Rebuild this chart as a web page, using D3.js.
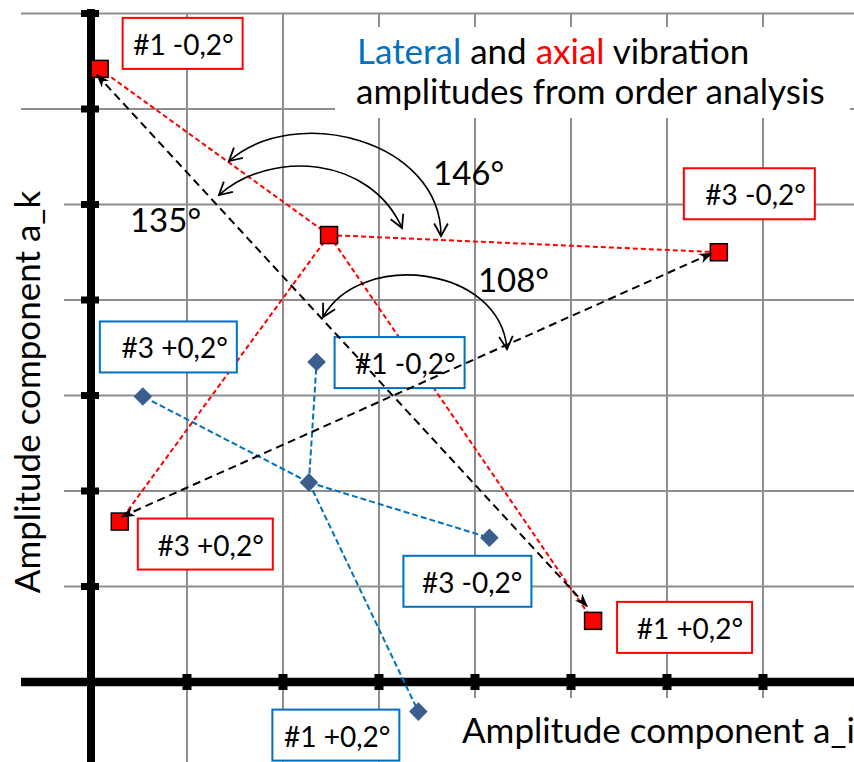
<!DOCTYPE html>
<html>
<head>
<meta charset="utf-8">
<script src="https://cdn.jsdelivr.net/npm/d3@7/dist/d3.min.js"></script>
<style>
  body { margin: 0; background: #fff; }
  svg { display: block; font-family: Lato, "Open Sans", sans-serif; }
</style>
</head>
<body>
<div id="chart"></div>
<script>
// Order analysis: axial (red) and lateral (blue) amplitude vectors, in grid units
const axialNames = ["ref", "#1 -0,2°", "#3 -0,2°", "#3 +0,2°", "#1 +0,2°"];
const axialX = [2.48, 0.09, 6.54, 0.30, 5.23];
const axialY = [4.68, 6.42, 4.50, 1.68, 0.64];

const lateralNames = ["ref", "#1 -0,2°", "#3 -0,2°", "#3 +0,2°", "#1 +0,2°"];
const lateralX = [2.27, 2.35, 4.15, 0.54, 3.41];
const lateralY = [2.09, 3.35, 1.51, 2.99, -0.31];

// black double arrows between the +/- 0,2° runs
const arrowStart = [[0.06, 6.36], [0.32, 1.73]];
const arrowEnd = [[5.17, 0.79], [6.47, 4.49]];

// angle annotations: curve from/through/through/to, plus label anchor
const angleLabels = ["146°", "135°", "108°"];
const angleCurves = [
    [[3.646, 4.67], [3.646, 5.675], [2.125, 6.063], [1.4375, 5.455]],
    [[3.24, 4.754], [2.906, 5.508], [1.875, 5.581], [1.333, 5.099]],
    [[4.333, 3.487], [4.26, 4.366], [2.802, 4.524], [2.417, 3.822]]
];
const angleTextPos = [[3.5625, 5.204], [0.406, 4.712], [4.03, 4.084]];

const xTicks = [1, 2, 3, 4, 5, 6, 7, 8];
const yTicks = [1, 2, 3, 4, 5, 6, 7];

// label box placement relative to its point (px)
const axialLabelLayout = {
    "#1 -0,2°": { dx: 23, dy: -51, w: 120 },
    "#3 -0,2°": { dx: -35, dy: -84, w: 131 },
    "#3 +0,2°": { dx: 18, dy: -3, w: 135 },
    "#1 +0,2°": { dx: 24, dy: -19, w: 135 }
};
const lateralLabelLayout = {
    "#1 -0,2°": { dx: 18, dy: -25, w: 130 },
    "#3 -0,2°": { dx: -86, dy: 18, w: 128 },
    "#3 +0,2°": { dx: -43, dy: -75, w: 137 },
    "#1 +0,2°": { dx: -146, dy: -2, w: 127 }
};

const width = 854;
const height = 762;
const red = "#ff0000";
const blue = "#0070c0";
const gridColor = "#8e8e8e";

const svg = d3.select("#chart")
    .append("svg")
    .attr("width", width)
    .attr("height", height);

const x = d3.scaleLinear().domain([0, 8]).range([91, 859]);
const y = d3.scaleLinear().domain([0, 7]).range([682, 13.5]);

// markers
const defs = svg.append("defs");
defs.append("marker")
    .attr("id", "stealth")
    .attr("viewBox", "0 0 14 10")
    .attr("refX", 13).attr("refY", 5)
    .attr("markerWidth", 14).attr("markerHeight", 10)
    .attr("markerUnits", "userSpaceOnUse")
    .attr("orient", "auto-start-reverse")
    .append("path")
    .attr("d", "M0,0 L14,5 L0,10 L4,5 Z")
    .attr("fill", "#000");
defs.append("marker")
    .attr("id", "openV")
    .attr("viewBox", "-1 -1 14 14")
    .attr("refX", 11).attr("refY", 6)
    .attr("markerWidth", 16).attr("markerHeight", 16)
    .attr("markerUnits", "userSpaceOnUse")
    .attr("orient", "auto-start-reverse")
    .append("path")
    .attr("d", "M0,0 L11,6 L0,12")
    .attr("fill", "none")
    .attr("stroke", "#000")
    .attr("stroke-width", 1.6);

// Grid
const grid = svg.append("g").attr("stroke", gridColor).attr("stroke-width", 2);
grid.selectAll(".vgrid")
    .data(xTicks)
    .join("line")
    .attr("x1", d => x(d)).attr("x2", d => x(d))
    .attr("y1", y(7)).attr("y2", height);
grid.selectAll(".hgrid")
    .data(yTicks)
    .join("line")
    .attr("x1", 21).attr("x2", width)
    .attr("y1", d => y(d)).attr("y2", d => y(d));

// white areas behind the titles (they hide the grid)
svg.append("rect").attr("x", 0).attr("y", 150).attr("width", 64).attr("height", 490).attr("fill", "#fff");
svg.append("rect").attr("x", 455).attr("y", 698).attr("width", 400).attr("height", 64).attr("fill", "#fff");
svg.append("rect").attr("x", 335).attr("y", 27).attr("width", 515).attr("height", 91).attr("fill", "#fff");

// Axes: heavy black lines with square ticks
svg.append("line")
    .attr("x1", 21).attr("x2", width)
    .attr("y1", y(0)).attr("y2", y(0))
    .attr("stroke", "#000").attr("stroke-width", 8.5);
svg.append("line")
    .attr("x1", x(0)).attr("x2", x(0))
    .attr("y1", 9).attr("y2", height)
    .attr("stroke", "#000").attr("stroke-width", 8);
svg.append("g")
    .selectAll("rect")
    .data(xTicks)
    .join("rect")
    .attr("x", d => x(d) - 4.5).attr("y", y(0) - 8)
    .attr("width", 9).attr("height", 16)
    .attr("fill", "#000");
svg.append("g")
    .selectAll("rect")
    .data(yTicks)
    .join("rect")
    .attr("x", x(0) - 10).attr("y", d => y(d) - 3.5)
    .attr("width", 18).attr("height", 7)
    .attr("fill", "#000");

// Axis titles
svg.append("text")
    .attr("x", 462)
    .attr("y", 743)
    .attr("font-size", 35)
    .attr("fill", "#000")
    .text("Amplitude component a_i");
svg.append("text")
    .attr("transform", "rotate(-90)")
    .attr("x", -392)
    .attr("y", 40)
    .attr("text-anchor", "middle")
    .attr("font-size", 35)
    .attr("fill", "#000")
    .text("Amplitude component a_k");

// Chart title
const title = svg.append("text")
    .attr("font-size", 35)
    .attr("fill", "#000");
title.append("tspan").attr("x", 357).attr("y", 64).attr("fill", blue).text("Lateral");
title.append("tspan").text(" and ");
title.append("tspan").attr("fill", red).text("axial");
title.append("tspan").text(" vibration");
title.append("tspan").attr("x", 356).attr("y", 104).text("amplitudes from order analysis");

// Series: spokes from the reference point to each run
function drawSeries(names, xs, ys, color, dash) {
    const pts = names.map((n, i) => ({ name: n, x: xs[i], y: ys[i] }));
    const ref = pts[0];
    svg.append("g")
        .selectAll("line")
        .data(pts.slice(1))
        .join("line")
        .attr("x1", x(ref.x)).attr("y1", y(ref.y))
        .attr("x2", d => x(d.x)).attr("y2", d => y(d.y))
        .attr("stroke", color)
        .attr("stroke-width", 2)
        .attr("stroke-dasharray", dash);
    return pts;
}

const axialPts = drawSeries(axialNames, axialX, axialY, red, "5,3");
const lateralPts = drawSeries(lateralNames, lateralX, lateralY, blue, "6,3");

svg.append("g")
    .selectAll("path")
    .data(lateralPts)
    .join("path")
    .attr("d", d3.symbol(d3.symbolDiamond2, 220))
    .attr("transform", d => `translate(${x(d.x)},${y(d.y)})`)
    .attr("fill", "#3a5f8f");

svg.append("g")
    .selectAll("rect")
    .data(axialPts)
    .join("rect")
    .attr("x", d => x(d.x) - 8.5).attr("y", d => y(d.y) - 8.5)
    .attr("width", 17).attr("height", 17)
    .attr("fill", red)
    .attr("stroke", "#000")
    .attr("stroke-width", 1.5);

// Data label boxes
function drawLabels(pts, layout, color) {
    const g = svg.append("g")
        .selectAll("g")
        .data(pts.filter(d => layout[d.name]))
        .join("g")
        .attr("transform", d => `translate(${x(d.x) + layout[d.name].dx},${y(d.y) + layout[d.name].dy})`);
    g.append("rect")
        .attr("width", d => layout[d.name].w)
        .attr("height", 51)
        .attr("fill", "#fff")
        .attr("stroke", color)
        .attr("stroke-width", 2);
    g.append("text")
        .attr("x", d => layout[d.name].w - 9)
        .attr("y", 37)
        .attr("text-anchor", "end")
        .attr("font-size", 28)
        .attr("fill", "#000")
        .text(d => d.name);
}
drawLabels(axialPts, axialLabelLayout, red);
drawLabels(lateralPts, lateralLabelLayout, blue);

// Double arrows (black dashed)
svg.append("g")
    .selectAll("line")
    .data(arrowStart)
    .join("line")
    .attr("x1", d => x(d[0])).attr("y1", d => y(d[1]))
    .attr("x2", (d, i) => x(arrowEnd[i][0])).attr("y2", (d, i) => y(arrowEnd[i][1]))
    .attr("stroke", "#000")
    .attr("stroke-width", 2)
    .attr("stroke-dasharray", "8,5")
    .attr("marker-start", "url(#stealth)")
    .attr("marker-end", "url(#stealth)");

// Angle arcs
svg.append("g")
    .selectAll("path")
    .data(angleCurves)
    .join("path")
    .attr("d", c => {
        const p = d3.path();
        p.moveTo(x(c[0][0]), y(c[0][1]));
        p.bezierCurveTo(x(c[1][0]), y(c[1][1]), x(c[2][0]), y(c[2][1]), x(c[3][0]), y(c[3][1]));
        return p.toString();
    })
    .attr("fill", "none")
    .attr("stroke", "#000")
    .attr("stroke-width", 1.6)
    .attr("marker-start", "url(#openV)")
    .attr("marker-end", "url(#openV)");

svg.append("g")
    .selectAll("text")
    .data(angleLabels)
    .join("text")
    .attr("x", (d, i) => x(angleTextPos[i][0]))
    .attr("y", (d, i) => y(angleTextPos[i][1]))
    .attr("font-size", 33)
    .attr("fill", "#000")
    .text(d => d);
</script>
</body>
</html>
